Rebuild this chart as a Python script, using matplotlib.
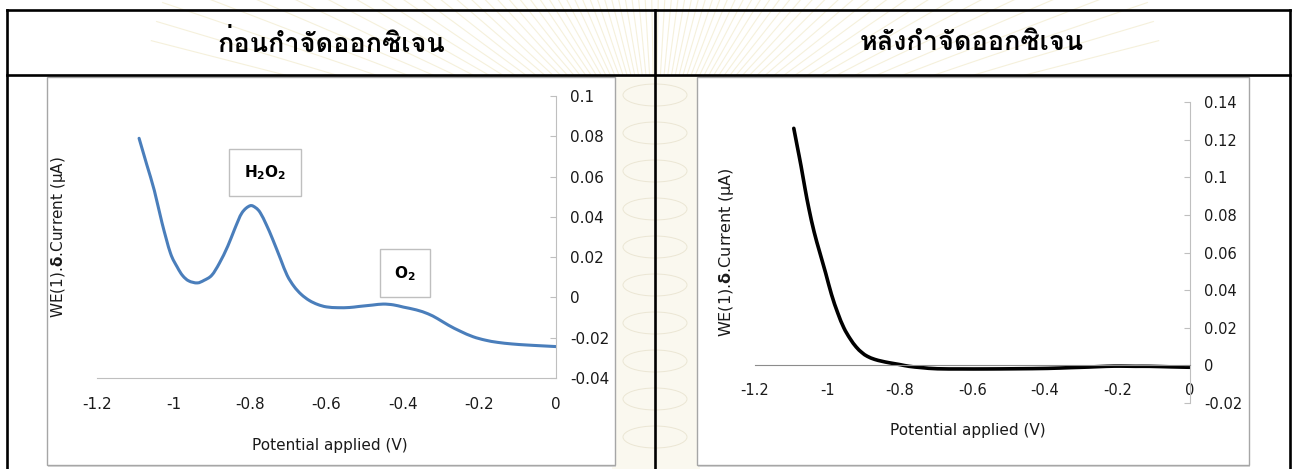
import numpy as np
import matplotlib
matplotlib.use("Agg")
import matplotlib.pyplot as plt
import matplotlib.patches as mpatches
from matplotlib.path import Path
from matplotlib import font_manager, ft2font

# voltammogram before oxygen removal (V, uA)
pot_before = [-1.09, -1.07, -1.05, -1.03, -1.008, -0.99, -0.976, -0.96, -0.938, -0.92,
              -0.90, -0.88, -0.858, -0.84, -0.821, -0.80, -0.785, -0.773, -0.757, -0.741,
              -0.72, -0.703, -0.685, -0.666, -0.645, -0.623, -0.60, -0.57, -0.54, -0.516,
              -0.48, -0.452, -0.425, -0.399, -0.365, -0.335, -0.31, -0.281, -0.25, -0.217,
              -0.185, -0.153, -0.115, -0.078, -0.04, 0.0]
cur_before = [0.079, 0.066, 0.053, 0.037, 0.022, 0.015, 0.0108, 0.0082, 0.0072, 0.0085,
              0.011, 0.017, 0.0255, 0.034, 0.042, 0.0455, 0.0445, 0.042, 0.036, 0.029,
              0.019, 0.011, 0.0055, 0.0015, -0.0015, -0.0035, -0.0047, -0.0051, -0.005, -0.0045,
              -0.0038, -0.0033, -0.0037, -0.0048, -0.0062, -0.0081, -0.0105, -0.0138, -0.0168, -0.0195,
              -0.0212, -0.0223, -0.0231, -0.0236, -0.024, -0.0244]

# voltammogram after oxygen removal
pot_after = [-1.093, -1.083, -1.073, -1.062, -1.051, -1.037, -1.022, -1.005, -0.989, -0.972,
             -0.955, -0.938, -0.921, -0.905, -0.89, -0.87, -0.85, -0.83, -0.80, -0.775, -0.74,
             -0.697, -0.63, -0.562, -0.48, -0.393, -0.33, -0.281, -0.23, -0.191, -0.15,
             -0.112, -0.05, 0.0]
cur_after = [0.126, 0.116, 0.106, 0.094, 0.083, 0.071, 0.0605, 0.049, 0.0377, 0.028,
             0.020, 0.0143, 0.0098, 0.0068, 0.0048, 0.0032, 0.0022, 0.0014, 0.0004, -0.0005, -0.0012,
             -0.0018, -0.0019, -0.0019, -0.0018, -0.0016, -0.0012, -0.0009, -0.0005, -0.0004, -0.0005,
             -0.0005, -0.0008, -0.001]

headers = ["ก่อนกำจัดออกซิเจน", "หลังกำจัดออกซิเจน"]
peak_labels = ["H$_\\mathbf{2}$O$_\\mathbf{2}$", "O$_\\mathbf{2}$"]
peak_pos = [(-0.761, 0.062), (-0.395, 0.012)]
xticks = [-1.2, -1.0, -0.8, -0.6, -0.4, -0.2, 0.0]
xtick_labels = ["-1.2", "-1", "-0.8", "-0.6", "-0.4", "-0.2", "0"]
yticks_before = [-0.04, -0.02, 0, 0.02, 0.04, 0.06, 0.08, 0.1]
yticks_after = [-0.02, 0, 0.02, 0.04, 0.06, 0.08, 0.1, 0.12, 0.14]
ylabel = "WE(1).$\\mathbf{\\delta}$.Current (μA)"
xlabel = "Potential applied (V)"


def find_thai_font():
    # any installed face with Thai glyphs, bold preferred
    found = []
    for f in font_manager.fontManager.ttflist:
        try:
            if 0x0E01 in ft2font.FT2Font(f.fname).get_charmap():
                found.append(f)
        except Exception:
            continue
    if not found:
        return font_manager.FontProperties(family="DejaVu Sans", weight="bold")
    found.sort(key=lambda f: 0 if str(f.weight) in ("bold", "700") else 1)
    return font_manager.FontProperties(fname=found[0].fname)


def smooth_line(ax, xs, ys, **kw):
    # spreadsheet-style smoothed line: Catmull-Rom segments as cubic Beziers
    p = np.column_stack([xs, ys])
    p = np.vstack([p[0], p, p[-1]])
    verts = [p[1]]
    codes = [Path.MOVETO]
    for i in range(1, len(p) - 2):
        c1 = p[i] + (p[i + 1] - p[i - 1]) / 6.0
        c2 = p[i + 1] - (p[i + 2] - p[i]) / 6.0
        verts += [c1, c2, p[i + 1]]
        codes += [Path.CURVE4] * 3
    patch = mpatches.PathPatch(Path(verts, codes), facecolor="none", capstyle="round",
                               joinstyle="round", **kw)
    ax.add_patch(patch)
    return patch


W, H = 1292, 469
plt.rcParams['font.family'] = ['DejaVu Sans']
plt.rcParams['mathtext.fontset'] = 'dejavusans'

fig = plt.figure(figsize=(W / 100, H / 100), dpi=100)
fig.patch.set_facecolor("white")

# background layer in pixel coordinates: watermark, chart frames, table grid
bg = fig.add_axes([0, 0, 1, 1], zorder=0)
bg.set_xlim(0, W)
bg.set_ylim(H, 0)
bg.axis("off")

cx, cy = 655, 170
for ang in np.linspace(np.pi * 1.08, np.pi * 1.92, 70):
    bg.plot([cx, cx + 520 * np.cos(ang)], [cy, cy + 520 * np.sin(ang)],
            color="#efe7c4", lw=0.8, alpha=0.6, zorder=1)
bg.add_patch(mpatches.Rectangle((612, 75), 88, H - 75, facecolor="#faf8ef",
                                edgecolor="none", zorder=1))
for yy in range(95, H, 38):
    bg.add_patch(mpatches.Ellipse((655, yy), 64, 22, facecolor="none",
                                  edgecolor="#ebe6d4", lw=0.7, zorder=1.5))

for x0, x1 in [(47, 615), (697, 1249)]:
    bg.add_patch(mpatches.Rectangle((x0 + 1, 78), x1 - x0, 389, facecolor="#d8d8d8",
                                    edgecolor="none", zorder=2))
    bg.add_patch(mpatches.Rectangle((x0, 77), x1 - x0, 388, facecolor="white",
                                    edgecolor="#a6a6a6", lw=1.0, zorder=3))

grid_kw = dict(color="black", lw=1.9, zorder=5, solid_capstyle="projecting")
bg.plot([7, 1290], [10, 10], **grid_kw)
bg.plot([7, 1290], [75, 75], **grid_kw)
bg.plot([7, 7], [10, H], **grid_kw)
bg.plot([1290, 1290], [10, H], **grid_kw)
bg.plot([655, 655], [10, H], **grid_kw)

thai = find_thai_font()
for txt, xc in zip(headers, [331, 972]):
    bg.text(xc, 43, txt, fontproperties=thai, fontsize=19.5, fontweight="bold",
            ha="center", va="center", zorder=6)


def px_axes(left, right, top, bottom):
    return fig.add_axes([left / W, 1 - bottom / H, (right - left) / W, (bottom - top) / H],
                        zorder=2)


def style_axes(ax, yticks, ymin, ymax, size):
    ax.patch.set_visible(False)
    ax.set_xlim(-1.2, 0)
    ax.set_ylim(ymin, ymax)
    ax.set_xticks(xticks)
    ax.set_xticklabels(xtick_labels)
    ax.set_yticks(yticks)
    ax.set_yticklabels(["%g" % v for v in yticks])
    ax.yaxis.tick_right()
    ax.yaxis.set_label_position("left")
    for s in ["top", "left"]:
        ax.spines[s].set_visible(False)
    ax.spines["right"].set_color("#bfbfbf")
    ax.tick_params(axis="y", direction="in", length=4, color="#bfbfbf", pad=10,
                   labelsize=size, labelcolor="#1a1a1a")
    ax.tick_params(axis="x", length=0, labelsize=size, labelcolor="#1a1a1a")


# before oxygen removal
ax1 = px_axes(97, 556, 96, 378)
style_axes(ax1, yticks_before, -0.04, 0.1, 11)
ax1.spines["bottom"].set_color("#bfbfbf")
ax1.tick_params(axis="x", pad=14)
smooth_line(ax1, pot_before, cur_before, edgecolor="#4a7ebb", lw=2.2)
for lab, (px, py) in zip(peak_labels, peak_pos):
    ax1.text(px, py, lab, fontsize=11, fontweight="bold", ha="center", va="center",
             bbox=dict(boxstyle="square,pad=0.95", facecolor="white", edgecolor="#bfbfbf", lw=1))
ax1.set_ylabel(ylabel, fontsize=11, color="#1a1a1a")
ax1.yaxis.set_label_coords(-0.063, 0.5)
ax1.set_xlabel(xlabel, fontsize=11, color="#1a1a1a")
ax1.xaxis.set_label_coords(0.508, -0.213)

# after oxygen removal
ax2 = px_axes(755, 1190, 102, 403)
style_axes(ax2, yticks_after, -0.02, 0.14, 10.5)
ax2.spines["bottom"].set_position(("data", 0))
ax2.spines["bottom"].set_color("#8c8c8c")
ax2.tick_params(axis="x", pad=13)
smooth_line(ax2, pot_after, cur_after, edgecolor="black", lw=2.6)
ax2.set_ylabel(ylabel, fontsize=11.5, color="#1a1a1a")
ax2.yaxis.set_label_coords(-0.044, 0.5)
ax2.set_xlabel(xlabel, fontsize=11, color="#1a1a1a")
ax2.xaxis.set_label_coords(0.49, -0.066)

fig.savefig("out.png", dpi=100)
